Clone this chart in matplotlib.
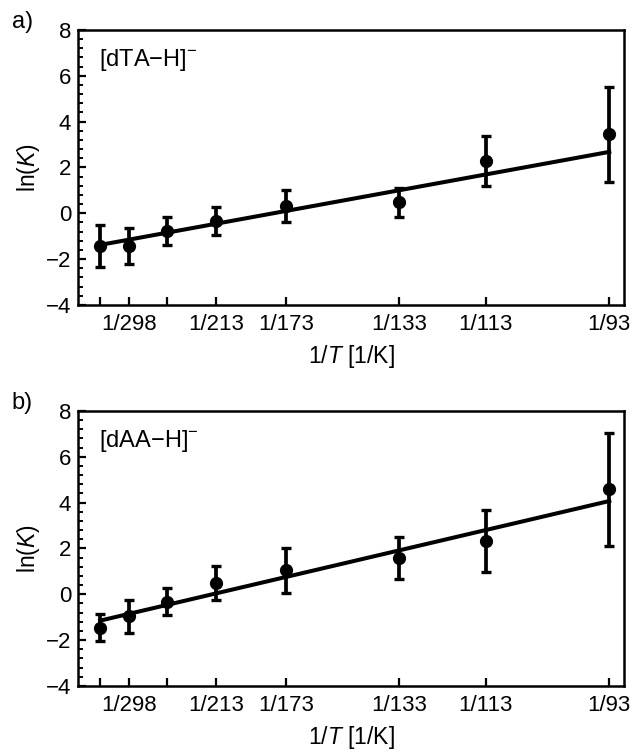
import numpy as np
import matplotlib
matplotlib.use("Agg")
import matplotlib.pyplot as plt

plt.rcParams['font.family'] = ['Liberation Sans', 'DejaVu Sans']
plt.rcParams['mathtext.fontset'] = 'custom'
plt.rcParams['mathtext.rm'] = 'Liberation Sans'
plt.rcParams['mathtext.it'] = 'Liberation Sans:italic'

# Températures (K) et ticks
temps = [343, 298, 253, 213, 173, 133, 113, 93]
tick_labels = ['', '1/298', '', '1/213', '1/173', '1/133', '1/113', '1/93']

# Panneau a) [dTA-H]-
lnk_a = [-1.42, -1.42, -0.77, -0.33, 0.32, 0.48, 2.29, 3.45]
err_a = [0.92, 0.78, 0.62, 0.60, 0.68, 0.62, 1.10, 2.07]
fit_a = [-2.89, 518.0]   # ordonnée, pente

# Panneau b) [dAA-H]-
lnk_b = [-1.45, -0.96, -0.33, 0.48, 1.05, 1.60, 2.32, 4.58]
err_b = [0.60, 0.72, 0.59, 0.74, 0.99, 0.92, 1.34, 2.48]
fit_b = [-3.09, 666.0]

inv_t = 1.0 / np.array(temps)

fig = plt.figure(figsize=(6.33, 7.53), dpi=100)
ax_a = fig.add_axes([0.1237, 0.595, 0.8626, 0.3652])
ax_b = fig.add_axes([0.1237, 0.089, 0.8626, 0.3652])

panels = [(ax_a, lnk_a, err_a, fit_a, 'a)', '[dTA\u2212H]$^{-}$'),
          (ax_b, lnk_b, err_b, fit_b, 'b)', '[dAA\u2212H]$^{-}$')]

for ax, lnk, err, fit, tag, name in panels:
    # Droite d'ajustement
    xl = np.array([inv_t[0], inv_t[-1]])
    ax.plot(xl, fit[0] + fit[1] * xl, color='black', lw=2.9, zorder=2)
    # Points avec barres d'erreur
    ax.errorbar(inv_t, lnk, yerr=err, fmt='o', color='black', ms=8.5,
                elinewidth=2.7, capsize=3.3, capthick=2.4, zorder=3)

    ax.set_xlim(0.00258, 0.010984)
    ax.set_ylim(-4, 8)
    ax.set_xticks(inv_t)
    ax.set_xticklabels(tick_labels)
    ax.set_yticks(np.arange(-4, 9, 2))
    ax.set_yticklabels(['\u22124', '\u22122', '0', '2', '4', '6', '8'])
    ax.set_yticks(np.arange(-4, 8.01, 0.4), minor=True)
    ax.tick_params(axis='both', direction='in', labelsize=16, width=1.6,
                   length=6, top=False, right=False, pad=5)
    ax.tick_params(axis='x', pad=6.5)
    ax.tick_params(axis='y', which='minor', direction='in', length=3.5,
                   width=1.4, right=False)
    ax.tick_params(axis='x', which='minor', bottom=False)
    for s in ax.spines.values():
        s.set_linewidth(1.8)

    ax.set_xlabel('1/$T$ [1/K]', fontsize=16.5, labelpad=6)
    ax.set_ylabel('ln($K$)', fontsize=16.5, labelpad=3)
    ax.text(0.037, 0.89, name, transform=ax.transAxes, fontsize=17,
            ha='left', va='center')
    ax.text(-0.083, 1.03, tag, transform=ax.transAxes, fontsize=17,
            ha='right', va='center')

fig.savefig('out.png', dpi=100)
